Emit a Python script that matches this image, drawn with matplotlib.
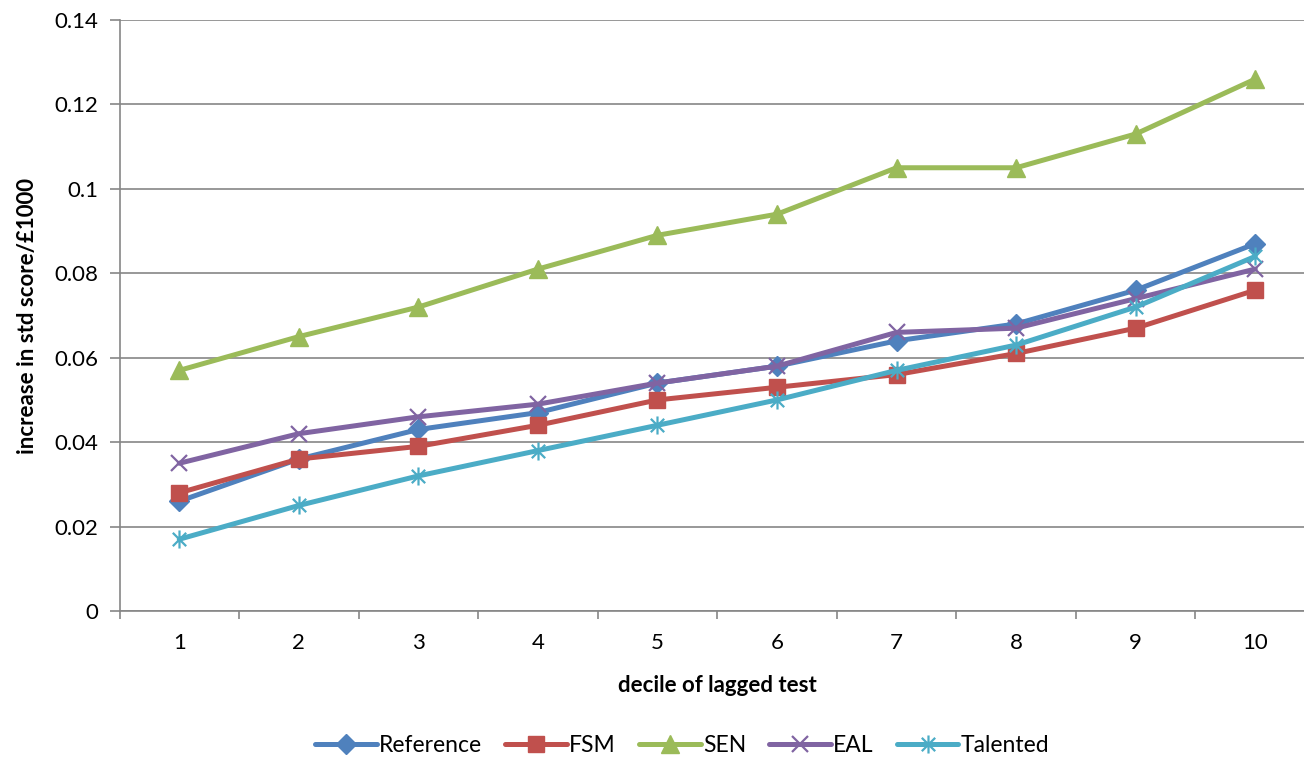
import matplotlib
matplotlib.use("Agg")
import matplotlib.pyplot as plt
from matplotlib.path import Path
import numpy as np

deciles = [1, 2, 3, 4, 5, 6, 7, 8, 9, 10]
reference = [0.026, 0.036, 0.043, 0.047, 0.054, 0.058, 0.064, 0.068, 0.076, 0.087]
fsm = [0.028, 0.036, 0.039, 0.044, 0.050, 0.053, 0.056, 0.061, 0.067, 0.076]
sen = [0.057, 0.065, 0.072, 0.081, 0.089, 0.094, 0.105, 0.105, 0.113, 0.126]
eal = [0.035, 0.042, 0.046, 0.049, 0.054, 0.058, 0.066, 0.067, 0.074, 0.081]
talented = [0.017, 0.025, 0.032, 0.038, 0.044, 0.050, 0.057, 0.063, 0.072, 0.084]
y_ticks = [0, 0.02, 0.04, 0.06, 0.08, 0.1, 0.12, 0.14]
y_tick_labels = ["0", "0.02", "0.04", "0.06", "0.08", "0.1", "0.12", "0.14"]

plt.rcParams["font.family"] = ["Lato", "DejaVu Sans"]

# asterisk marker: an X with a vertical stroke through it
ast = Path(
    [(-1, -1), (1, 1), (-1, 1), (1, -1), (0, -1.35), (0, 1.35)],
    [Path.MOVETO, Path.LINETO, Path.MOVETO, Path.LINETO, Path.MOVETO, Path.LINETO],
)

W, H = 1304, 759
fig = plt.figure(figsize=(W / 100, H / 100), dpi=100)
ax = fig.add_axes([119.5 / W, (H - 611) / H, (1315 - 119.5) / W, (611 - 20) / H])

x = np.arange(len(deciles))
series = [
    ("Reference", reference, "#4F81BD", "D", 10.5, 1),
    ("FSM", fsm, "#C0504D", "s", 12, 1),
    ("SEN", sen, "#9BBB59", "^", 13, 1),
    ("EAL", eal, "#8064A2", "x", 11, 1.6),
    ("Talented", talented, "#4BACC6", ast, 13, 1.6),
]
for name, vals, color, mk, ms, mew in series:
    ax.plot(x, vals, color=color, lw=3.6, marker=mk, ms=ms,
            markeredgewidth=mew, markeredgecolor=color, markerfacecolor=color,
            label=name, solid_capstyle="round", zorder=3)

ax.set_xlim(-0.5, len(deciles) - 0.5)
ax.set_ylim(0, 0.14)
ax.set_yticks(y_ticks)
ax.set_yticklabels(y_tick_labels)
ax.set_xticks(x)
ax.set_xticklabels([str(d) for d in deciles])
ax.set_xticks(np.arange(len(deciles) + 1) - 0.5, minor=True)
ax.tick_params(axis="x", which="major", length=0, labelsize=16, pad=16)
ax.tick_params(axis="x", which="minor", length=6, width=1.2, color="#868686")
ax.tick_params(axis="y", length=7, width=1.2, color="#868686", labelsize=16, pad=8)

ax.grid(axis="y", color="#868686", lw=1.2)
ax.set_axisbelow(True)
for side in ("top", "right"):
    ax.spines[side].set_visible(False)
for side in ("left", "bottom"):
    ax.spines[side].set_color("#868686")
    ax.spines[side].set_linewidth(1.2)

ax.set_xlabel("decile of lagged test", fontsize=16, fontweight="bold", labelpad=16)
ax.set_ylabel("increase in std score/\u00a31000", fontsize=16, fontweight="bold", labelpad=12)

fig.legend(loc="center", bbox_to_anchor=(682 / W, (H - 746) / H), ncol=5,
           frameon=False, fontsize=16.5, handlelength=2.7, handletextpad=0.1,
           columnspacing=1.0)

fig.savefig("out.png", dpi=100)
